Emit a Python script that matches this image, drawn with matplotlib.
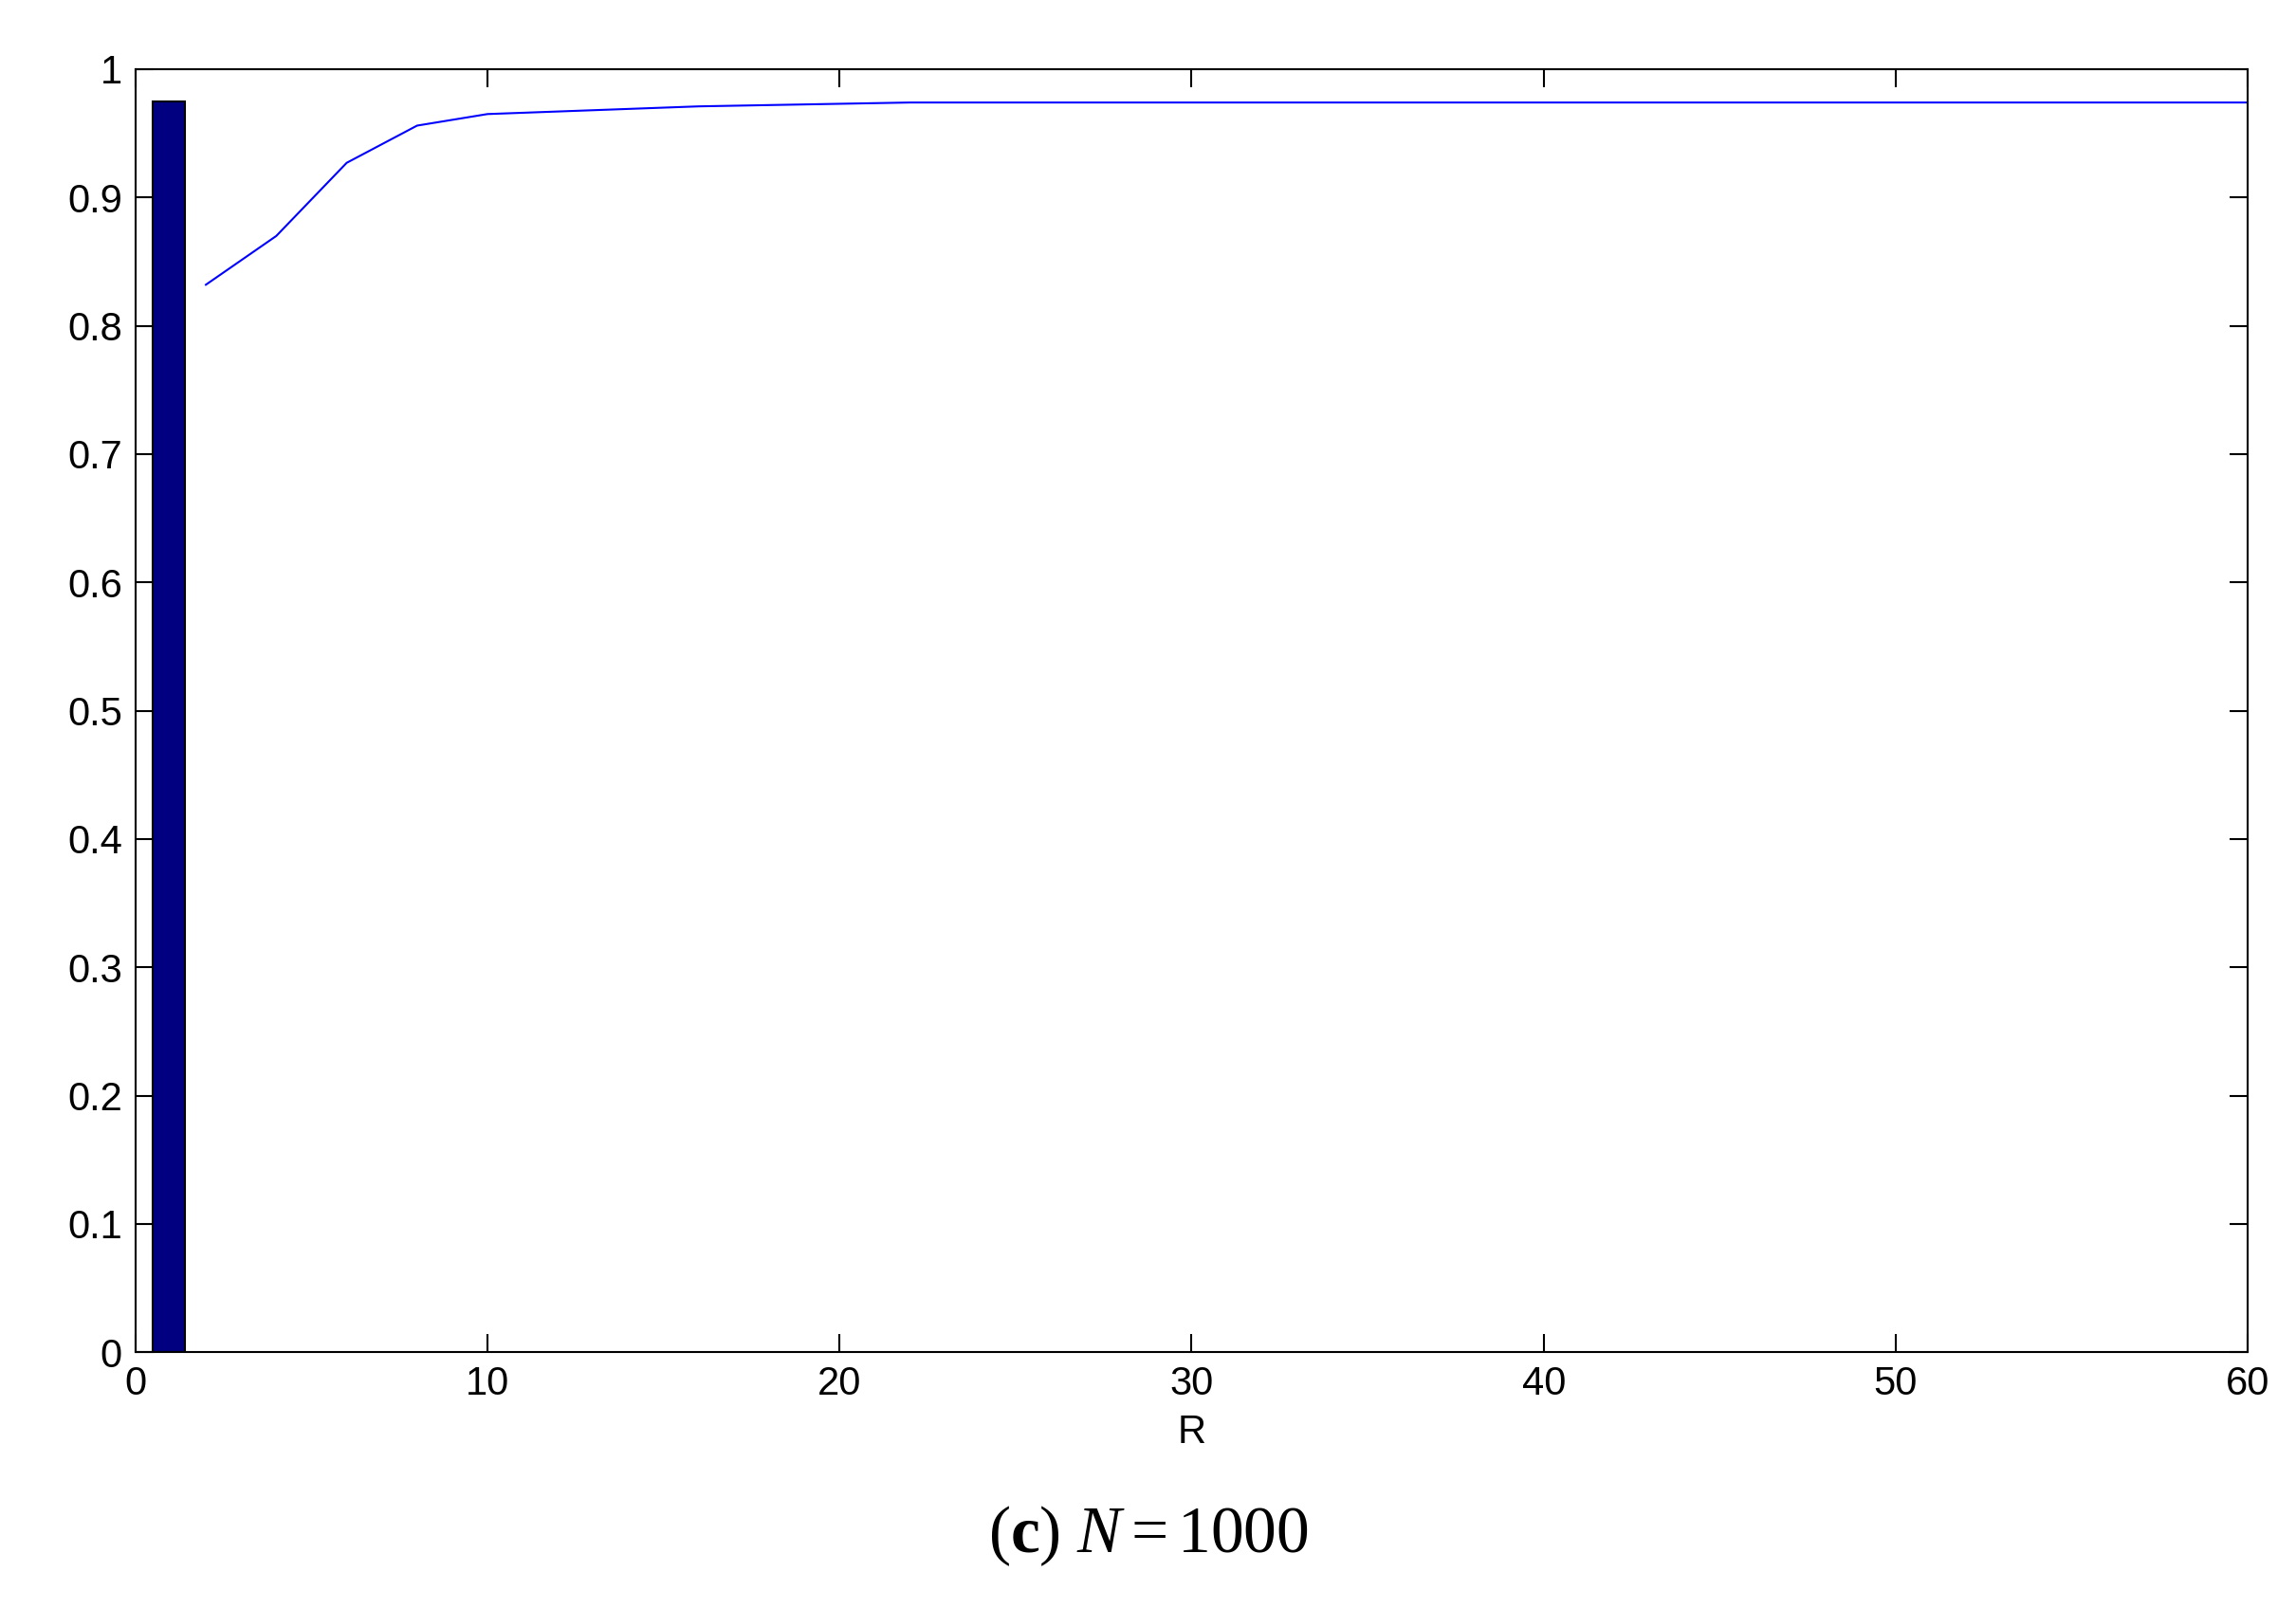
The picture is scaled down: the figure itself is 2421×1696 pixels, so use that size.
import matplotlib
matplotlib.use("Agg")
import matplotlib.pyplot as plt

bar_x = [0.95]
bar_h = [0.975]
line_x = [2, 4, 6, 8, 10, 12, 14, 16, 18, 20, 22, 24, 26, 28, 30, 32, 34, 36, 38, 40,
          42, 44, 46, 48, 50, 52, 54, 56, 58, 60]
line_y = [0.832, 0.870, 0.927, 0.956, 0.965, 0.967, 0.969, 0.971, 0.972, 0.973,
          0.974, 0.974, 0.974, 0.974, 0.974, 0.974, 0.974, 0.974, 0.974, 0.974,
          0.974, 0.974, 0.974, 0.974, 0.974, 0.974, 0.974, 0.974, 0.974, 0.974]
xticks = [0, 10, 20, 30, 40, 50, 60]
yticks = [0, 0.1, 0.2, 0.3, 0.4, 0.5, 0.6, 0.7, 0.8, 0.9, 1]
ylabels = ["0", "0.1", "0.2", "0.3", "0.4", "0.5", "0.6", "0.7", "0.8", "0.9", "1"]

plt.rcParams['font.family'] = ['Liberation Sans', 'DejaVu Sans']
plt.rcParams['mathtext.fontset'] = 'custom'
plt.rcParams['mathtext.rm'] = 'Liberation Serif'
plt.rcParams['mathtext.it'] = 'Liberation Serif:italic'
plt.rcParams['mathtext.bf'] = 'Liberation Serif:bold'

fig = plt.figure(figsize=(24.21, 16.96), dpi=100)
ax = fig.add_axes([0.059, 0.159, 0.920, 0.798])
ax.bar(bar_x, bar_h, width=0.9, color='#000080', edgecolor='black', linewidth=1.5)
ax.plot(line_x, line_y, color='blue', linewidth=1.5)
ax.set_xlim(0, 60)
ax.set_ylim(0, 1)
ax.set_xticks(xticks)
ax.set_xticklabels([str(t) for t in xticks])
ax.set_yticks(yticks)
ax.set_yticklabels(ylabels)
ax.tick_params(direction='in', top=True, right=True, length=14, width=1.5,
               labelsize=30, pad=10)
for s in ax.spines.values():
    s.set_linewidth(1.5)
ax.set_xlabel('R', fontsize=30, labelpad=8)
fig.text(0.5, 0.035, r'$(\mathbf{c})\ N = 1000$', ha='center', fontsize=50)
fig.savefig('out.png', dpi=100)
